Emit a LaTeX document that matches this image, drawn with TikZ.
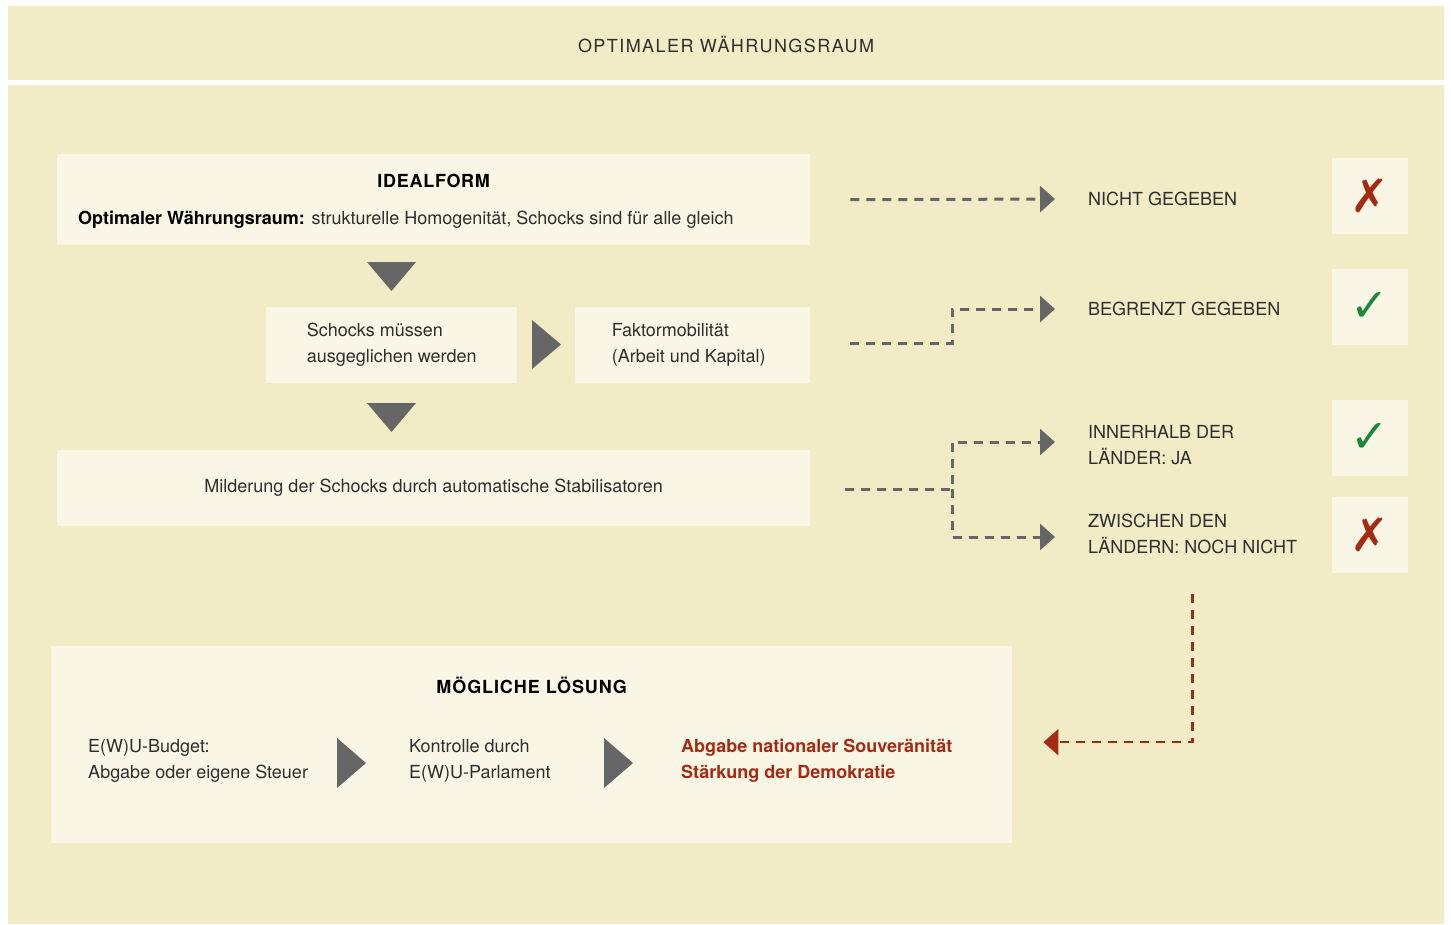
\documentclass[tikz,border=0pt]{standalone}
\usepackage{fontspec}
\setmainfont{TeX Gyre Heros}
\newfontfamily\tickfont{DejaVu Sans}
\usepackage{tikz}
\usetikzlibrary{arrows.meta,positioning,calc}
\definecolor{panelTan}{HTML}{F1ECC6}
\definecolor{boxCream}{HTML}{F9F6E5}
\definecolor{markGray}{HTML}{666666}
\definecolor{textDark}{HTML}{2E2E2E}
\definecolor{accentRed}{HTML}{A52A12}
\definecolor{accentGreen}{HTML}{1A8A3A}

\begin{document}
\begin{tikzpicture}[
    x=1pt,y=-1pt,
    every node/.style={font=\fontsize{18}{26}\selectfont,text=textDark},
    head/.style={font=\bfseries\fontsize{18}{26}\selectfont\addfontfeatures{LetterSpace=4},text=black},
    box/.style={fill=boxCream,inner sep=0pt,anchor=north west},
    tag/.style={anchor=west,inner sep=0pt,align=left},
    tick/.style={fill=boxCream,minimum size=76pt,inner sep=0pt,font=\tickfont\fontsize{46}{46}\selectfont},
    link/.style={markGray,line width=3pt,dash pattern=on 9pt off 7pt,-{Triangle[length=15pt,width=26pt,sep=3pt]}},
    back/.style={accentRed,line width=2.5pt,dash pattern=on 9pt off 7pt,-{Triangle[length=15pt,width=26pt,sep=6pt]}},
    pointer/.style={fill=markGray}
  ]
  \useasboundingbox[fill=white] (0,0) rectangle (1451,924);
  %% Header band and panel
  \fill[panelTan] (8,6) rectangle (1444,80);
  \node (title) at (726,45) {\addfontfeatures{LetterSpace=8}OPTIMALER WÄHRUNGSRAUM};
  \fill[panelTan] (8,85) rectangle (1444,924);

  %% Left column boxes
  \node[box,minimum width=753pt,minimum height=91pt] (ideal) at (57,154) {};
  \node[head] at ($(ideal.north)+(0,27)$) {IDEALFORM};
  \node[tag] at ($(ideal.west)+(21,20)$) {\textbf{\color{black}Optimaler Währungsraum:} strukturelle Homogenität, Schocks sind für alle gleich};
  \node[box,minimum width=251pt,minimum height=76pt,align=left] (schock) at (266,307) {Schocks müssen\\ausgeglichen werden};
  \node[box,minimum width=227pt,minimum height=76pt,align=left] (faktor) at (575,307) {Faktormobilität\\(Arbeit und Kapital)};
  \fill[boxCream] (faktor.north east) rectangle ([xshift=8pt]faktor.south east);
  \node[box,minimum width=753pt,minimum height=76pt] (milder) at (57,450) {Milderung der Schocks durch automatische Stabilisatoren};

  \fill[pointer] (367,262) -- (416,262) -- (391.5,291) -- cycle;
  \fill[pointer] (532,320) -- (561,344.5) -- (532,369) -- cycle;
  \fill[pointer] (367,403) -- (416,403) -- (391.5,432) -- cycle;

  %% Right column: findings
  \node[tag] (nicht) at (1088,199) {NICHT GEGEBEN};
  \node[tag] (begrenzt) at (1088,309) {BEGRENZT GEGEBEN};
  \node[tag] (innen) at (1088,445) {INNERHALB DER\\LÄNDER: JA};
  \node[tag] (zwischen) at (1088,534) {ZWISCHEN DEN\\LÄNDERN: NOCH NICHT};

  \node[tick,text=accentRed] (no1) at (1370,196) {✗};
  \node[tick,text=accentGreen] (yes1) at (1370,307) {✓};
  \node[tick,text=accentGreen] (yes2) at (1370,438) {✓};
  \node[tick,text=accentRed] (no2) at (1370,535) {✗};

  \draw[link] ([xshift=40pt]ideal.east) -- ([xshift=-30pt]nicht.west);
  \draw[link] ([xshift=48pt,yshift=2pt]faktor.east) -- ++(102,0) |- ([xshift=-30pt]begrenzt.west);
  \draw[link] ([xshift=35pt,yshift=-1pt]milder.east) -- ++(107,0) coordinate (split) |- ([xshift=-30pt,yshift=3pt]innen.west);
  \draw[link] (split) |- ([xshift=-30pt,yshift=-3pt]zwischen.west);

  %% Possible solution
  \node[box,minimum width=961pt,minimum height=197pt] (loesung) at (51,646) {};
  \node[head,font=\bfseries\fontsize{18}{26}\selectfont\addfontfeatures{LetterSpace=5}] at ($(loesung.north)+(0,39)$) {MÖGLICHE LÖSUNG};
  \node[tag] (budget) at (88,761) {E(W)U-Budget:\\Abgabe oder eigene Steuer};
  \node[tag] (kontrolle) at (409,761) {Kontrolle durch\\E(W)U-Parlament};
  \node[tag,font=\bfseries\fontsize{18}{26}\selectfont,text=accentRed] (abgabe) at (681,761) {Abgabe nationaler Souveränität\\Stärkung der Demokratie};
  \fill[pointer] (337,738) -- (366,763) -- (337,788) -- cycle;
  \fill[pointer] (604,738) -- (633,763) -- (604,788) -- cycle;

  \draw[back] ([yshift=-40pt]zwischen.south) |- ([xshift=25pt,yshift=2.5pt]loesung.east);
\end{tikzpicture}
\end{document}
